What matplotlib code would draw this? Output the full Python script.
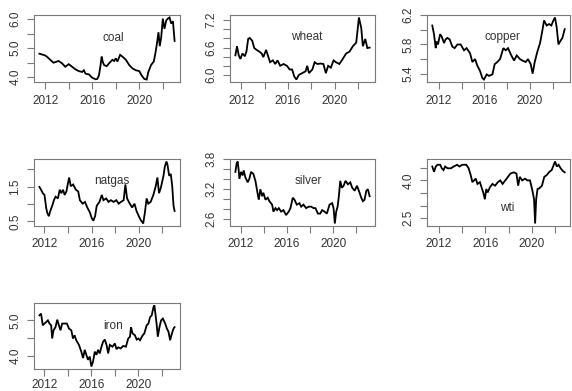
import matplotlib
matplotlib.use("Agg")
import matplotlib.pyplot as plt
from matplotlib.ticker import FixedLocator

plt.rcParams['font.family'] = ['Liberation Sans', 'DejaVu Sans']

# ---------------- data (log prices) ----------------
coal_years = [2011.51, 2012.00, 2012.14, 2012.43, 2012.71, 2013.00, 2013.14, 2013.43, 2013.71, 2014.00,
              2014.29, 2014.57, 2014.86, 2015.14, 2015.29, 2015.43, 2015.71, 2016.00, 2016.29, 2016.43,
              2016.57, 2016.71, 2016.80, 2016.89, 2017.00, 2017.23, 2017.43, 2017.71, 2017.86, 2018.00,
              2018.14, 2018.37, 2018.57, 2018.86, 2019.14, 2019.43, 2019.71, 2020.00, 2020.20, 2020.43,
              2020.63, 2020.77, 2021.00, 2021.23, 2021.37, 2021.51, 2021.63, 2021.74, 2021.86, 2022.00,
              2022.14, 2022.29, 2022.43, 2022.57, 2022.71, 2022.86, 2023.00]
coal_values = [4.81, 4.75, 4.71, 4.60, 4.50, 4.54, 4.56, 4.48, 4.36, 4.45,
               4.36, 4.27, 4.21, 4.18, 4.24, 4.12, 4.10, 3.98, 3.93, 3.94,
               4.06, 4.42, 4.71, 4.54, 4.42, 4.38, 4.48, 4.60, 4.56, 4.65,
               4.54, 4.77, 4.71, 4.60, 4.42, 4.30, 4.24, 4.21, 4.06, 3.94,
               3.92, 4.18, 4.42, 4.54, 4.83, 5.19, 5.55, 5.07, 5.37, 6.02,
               5.67, 5.96, 6.02, 6.06, 5.85, 5.93, 5.25]

wheat_years = [2011.48, 2011.62, 2011.77, 2011.91, 2012.09, 2012.29, 2012.43, 2012.58, 2012.72, 2012.93,
               2013.10, 2013.30, 2013.54, 2013.74, 2013.88, 2014.12, 2014.32, 2014.46, 2014.70, 2014.90,
               2015.10, 2015.33, 2015.62, 2015.91, 2016.14, 2016.35, 2016.55, 2016.72, 2016.93, 2017.22,
               2017.51, 2017.65, 2017.80, 2018.09, 2018.29, 2018.52, 2018.81, 2019.04, 2019.25, 2019.45,
               2019.68, 2019.91, 2020.12, 2020.41, 2020.70, 2020.99, 2021.28, 2021.57, 2021.86, 2022.09,
               2022.29, 2022.43, 2022.64, 2022.81, 2023.01]
wheat_values = [6.43, 6.63, 6.43, 6.35, 6.47, 6.41, 6.51, 6.79, 6.81, 6.75,
                6.59, 6.55, 6.51, 6.47, 6.39, 6.55, 6.39, 6.28, 6.32, 6.24,
                6.32, 6.20, 6.24, 6.20, 6.12, 6.12, 5.96, 5.90, 6.00, 6.04,
                6.08, 6.20, 6.04, 6.12, 6.28, 6.24, 6.25, 6.24, 6.04, 6.20,
                6.16, 6.32, 6.28, 6.24, 6.35, 6.47, 6.51, 6.63, 6.71, 7.26,
                7.03, 6.63, 6.79, 6.59, 6.60]

copper_years = [2011.43, 2011.58, 2011.73, 2011.81, 2011.93, 2012.11, 2012.25, 2012.46, 2012.60, 2012.75,
                2012.95, 2013.19, 2013.39, 2013.63, 2013.92, 2014.21, 2014.44, 2014.74, 2014.94, 2015.18,
                2015.38, 2015.61, 2015.82, 2015.96, 2016.20, 2016.40, 2016.70, 2016.90, 2017.13, 2017.37,
                2017.66, 2017.87, 2018.07, 2018.36, 2018.60, 2018.83, 2019.12, 2019.33, 2019.62, 2019.82,
                2020.06, 2020.23, 2020.41, 2020.64, 2020.88, 2021.08, 2021.23, 2021.46, 2021.67, 2021.87,
                2022.05, 2022.19, 2022.34, 2022.49, 2022.63, 2022.84, 2023.04]
copper_values = [6.06, 5.94, 5.75, 5.84, 5.80, 5.94, 5.91, 5.82, 5.87, 5.89,
                 5.87, 5.77, 5.75, 5.80, 5.80, 5.72, 5.75, 5.68, 5.56, 5.60,
                 5.51, 5.44, 5.34, 5.32, 5.39, 5.37, 5.39, 5.53, 5.56, 5.60,
                 5.75, 5.72, 5.75, 5.65, 5.58, 5.65, 5.60, 5.58, 5.56, 5.60,
                 5.53, 5.40, 5.56, 5.70, 5.82, 5.99, 6.13, 6.06, 6.08, 6.06,
                 6.13, 6.17, 6.03, 5.80, 5.84, 5.89, 6.01]

natgas_years = [2011.57, 2011.71, 2011.86, 2012.00, 2012.14, 2012.23, 2012.37, 2012.49, 2012.66, 2012.80,
                2012.94, 2013.14, 2013.29, 2013.43, 2013.57, 2013.71, 2013.86, 2014.00, 2014.09, 2014.23,
                2014.43, 2014.66, 2014.86, 2015.00, 2015.23, 2015.43, 2015.63, 2015.86, 2016.00, 2016.14,
                2016.29, 2016.43, 2016.66, 2016.86, 2017.00, 2017.23, 2017.43, 2017.63, 2017.86, 2018.09,
                2018.29, 2018.49, 2018.71, 2018.86, 2019.00, 2019.23, 2019.43, 2019.63, 2019.80, 2020.00,
                2020.14, 2020.37, 2020.51, 2020.66, 2020.80, 2021.00, 2021.23, 2021.43, 2021.57, 2021.71,
                2021.86, 2022.09, 2022.20, 2022.34, 2022.43, 2022.57, 2022.71, 2022.83, 2022.94, 2023.03]
natgas_values = [1.49, 1.41, 1.31, 1.26, 0.90, 0.75, 0.65, 0.80, 0.95, 1.11,
                 1.21, 1.16, 1.41, 1.31, 1.41, 1.26, 1.36, 1.61, 1.76, 1.51,
                 1.56, 1.41, 1.36, 1.11, 1.01, 1.06, 0.90, 0.75, 0.60, 0.52,
                 0.65, 0.95, 1.06, 1.26, 1.11, 1.16, 1.06, 1.11, 1.06, 1.11,
                 1.01, 1.06, 1.11, 1.56, 1.16, 1.01, 0.90, 1.01, 0.80, 0.65,
                 0.55, 0.44, 0.75, 1.16, 1.01, 1.06, 1.26, 1.51, 1.76, 1.31,
                 1.46, 1.81, 2.07, 2.22, 2.12, 1.81, 1.86, 1.51, 0.95, 0.80]

silver_years = [2011.51, 2011.62, 2011.71, 2011.80, 2011.86, 2012.00, 2012.14, 2012.23, 2012.38, 2012.58,
                2012.72, 2012.87, 2013.07, 2013.25, 2013.45, 2013.54, 2013.68, 2013.83, 2013.94, 2014.12,
                2014.32, 2014.46, 2014.70, 2014.81, 2014.99, 2015.13, 2015.28, 2015.48, 2015.68, 2015.91,
                2016.14, 2016.29, 2016.49, 2016.64, 2016.84, 2017.07, 2017.22, 2017.42, 2017.65, 2017.88,
                2018.09, 2018.29, 2018.46, 2018.67, 2018.87, 2019.04, 2019.25, 2019.45, 2019.68, 2019.91,
                2020.03, 2020.14, 2020.26, 2020.38, 2020.49, 2020.61, 2020.75, 2020.90, 2021.07, 2021.28,
                2021.48, 2021.65, 2021.86, 2022.06, 2022.29, 2022.43, 2022.58, 2022.72, 2022.87, 2023.01,
                2023.16]
silver_values = [3.54, 3.71, 3.75, 3.57, 3.40, 3.54, 3.47, 3.57, 3.43, 3.33,
                 3.40, 3.54, 3.50, 3.36, 3.09, 2.98, 3.19, 3.05, 3.12, 2.98,
                 3.02, 2.95, 2.88, 2.74, 2.81, 2.77, 2.81, 2.74, 2.77, 2.67,
                 2.74, 2.81, 3.02, 2.98, 2.88, 2.91, 2.84, 2.88, 2.81, 2.84,
                 2.84, 2.81, 2.81, 2.70, 2.70, 2.77, 2.74, 2.70, 2.88, 2.91,
                 2.81, 2.50, 2.74, 2.84, 3.05, 3.36, 3.22, 3.26, 3.36, 3.29,
                 3.33, 3.22, 3.16, 3.26, 3.12, 3.02, 2.95, 2.98, 3.16, 3.19,
                 3.05]

wti_years = [2011.43, 2011.58, 2011.73, 2011.87, 2012.11, 2012.25, 2012.40, 2012.54, 2012.75, 2013.04,
             2013.27, 2013.57, 2013.77, 2014.01, 2014.36, 2014.56, 2014.74, 2014.88, 2015.03, 2015.18,
             2015.32, 2015.53, 2015.67, 2015.82, 2015.96, 2016.08, 2016.20, 2016.40, 2016.61, 2016.84,
             2017.08, 2017.28, 2017.49, 2017.72, 2017.95, 2018.16, 2018.45, 2018.68, 2018.83, 2018.97,
             2019.18, 2019.42, 2019.62, 2019.85, 2020.06, 2020.20, 2020.29, 2020.38, 2020.50, 2020.64,
             2020.88, 2021.08, 2021.29, 2021.52, 2021.72, 2021.90, 2022.01, 2022.16, 2022.31, 2022.49,
             2022.69, 2022.84]
wti_values = [4.55, 4.34, 4.55, 4.62, 4.62, 4.48, 4.41, 4.55, 4.48, 4.48,
              4.55, 4.62, 4.55, 4.62, 4.62, 4.48, 4.21, 3.93, 4.00, 4.07,
              3.86, 3.93, 3.73, 3.52, 3.25, 3.66, 3.52, 3.73, 3.86, 3.79,
              3.93, 4.00, 3.86, 4.00, 4.14, 4.27, 4.32, 4.27, 3.79, 4.14,
              4.00, 4.07, 4.00, 4.00, 3.59, 3.25, 2.29, 3.25, 3.66, 3.68,
              3.79, 4.14, 4.21, 4.34, 4.41, 4.62, 4.75, 4.55, 4.62, 4.48,
              4.37, 4.32]

iron_years = [2011.57, 2011.71, 2011.86, 2012.00, 2012.14, 2012.29, 2012.43, 2012.57, 2012.66, 2012.77,
              2012.94, 2013.09, 2013.23, 2013.37, 2013.51, 2013.71, 2013.91, 2014.09, 2014.29, 2014.43,
              2014.57, 2014.71, 2014.94, 2015.14, 2015.29, 2015.43, 2015.57, 2015.71, 2015.86, 2016.00,
              2016.14, 2016.29, 2016.43, 2016.57, 2016.71, 2016.86, 2017.00, 2017.14, 2017.29, 2017.43,
              2017.57, 2017.80, 2018.00, 2018.14, 2018.29, 2018.49, 2018.71, 2018.94, 2019.14, 2019.29,
              2019.37, 2019.51, 2019.71, 2019.86, 2020.00, 2020.14, 2020.37, 2020.51, 2020.71, 2020.86,
              2021.00, 2021.14, 2021.29, 2021.37, 2021.49, 2021.57, 2021.66, 2021.80, 2021.94, 2022.09,
              2022.29, 2022.43, 2022.57, 2022.71, 2022.86, 2023.00, 2023.09]
iron_values = [5.14, 5.19, 4.86, 4.91, 4.95, 5.00, 4.91, 4.86, 4.49, 4.72,
               4.81, 5.02, 4.86, 4.72, 4.91, 4.91, 4.91, 4.77, 4.72, 4.49,
               4.58, 4.44, 4.31, 4.12, 3.94, 4.17, 4.03, 3.89, 3.98, 3.70,
               3.84, 4.12, 4.03, 4.17, 4.07, 4.26, 4.40, 4.46, 4.31, 4.07,
               4.31, 4.26, 4.35, 4.19, 4.24, 4.21, 4.28, 4.26, 4.49, 4.54,
               4.81, 4.63, 4.58, 4.46, 4.49, 4.44, 4.58, 4.63, 4.86, 4.91,
               5.09, 5.14, 5.37, 5.42, 5.09, 4.86, 4.54, 4.81, 5.00, 5.05,
               4.91, 4.77, 4.68, 4.44, 4.63, 4.77, 4.81]

series_names = ["coal", "wheat", "copper", "natgas", "silver", "wti", "iron"]

x_ticks = [2012, 2014, 2016, 2018, 2020, 2022]
x_tick_labels = ["2012", "", "2016", "", "2020", ""]

y_ticks = {
    "coal":   [4.0, 4.5, 5.0, 5.5, 6.0],
    "wheat":  [6.0, 6.2, 6.4, 6.6, 6.8, 7.0, 7.2],
    "copper": [5.4, 5.6, 5.8, 6.0, 6.2],
    "natgas": [0.5, 1.0, 1.5, 2.0],
    "silver": [2.6, 2.8, 3.0, 3.2, 3.4, 3.6, 3.8],
    "wti":    [2.5, 3.0, 3.5, 4.0, 4.5],
    "iron":   [4.0, 4.5, 5.0],
}
y_tick_labels = {
    "coal":   ["4.0", "", "5.0", "", "6.0"],
    "wheat":  ["6.0", "", "", "6.6", "", "", "7.2"],
    "copper": ["5.4", "", "5.8", "", "6.2"],
    "natgas": ["0.5", "", "1.5", ""],
    "silver": ["2.6", "", "", "3.2", "", "", "3.8"],
    "wti":    ["2.5", "", "", "4.0", ""],
    "iron":   ["4.0", "", "5.0"],
}

series = {
    "coal": (coal_years, coal_values),
    "wheat": (wheat_years, wheat_values),
    "copper": (copper_years, copper_values),
    "natgas": (natgas_years, natgas_values),
    "silver": (silver_years, silver_values),
    "wti": (wti_years, wti_values),
    "iron": (iron_years, iron_values),
}

# ---------------- layout (pixels) ----------------
W, H = 572, 391
col_px = [(34, 180), (230, 375), (427, 570)]
row_px = [(15, 82), (159, 226), (303, 369)]
label_pos = {
    "coal": (0.545, 0.66), "wheat": (0.53, 0.675), "copper": (0.53, 0.665),
    "natgas": (0.53, 0.665), "silver": (0.54, 0.665), "wti": (0.56, 0.265),
    "iron": (0.54, 0.65),
}

fig = plt.figure(figsize=(W / 100, H / 100), dpi=100)
fig.patch.set_facecolor("white")

box_col = "#7a7a7a"
txt_col = "#333333"

for i, name in enumerate(series_names):
    r, c = divmod(i, 3)
    x0, x1 = col_px[c]
    yt, yb = row_px[r]
    ax = fig.add_axes([x0 / W, 1 - yb / H, (x1 - x0) / W, (yb - yt) / H])
    yrs, vals = series[name]
    ax.plot(yrs, vals, color="black", lw=1.3, solid_joinstyle="miter")
    ax.margins(x=0.04, y=0.04)
    ax.xaxis.set_major_locator(FixedLocator(x_ticks))
    ax.set_xticklabels(x_tick_labels)
    ax.yaxis.set_major_locator(FixedLocator(y_ticks[name]))
    ax.set_yticklabels(y_tick_labels[name], rotation=90, va="center")
    ax.tick_params(axis="both", direction="out", length=5, width=0.8,
                   color=box_col, labelcolor=txt_col, labelsize=8.5)
    ax.tick_params(axis="x", pad=(2.5 if r == 2 else 4))
    ax.tick_params(axis="y", pad=4)
    for s in ax.spines.values():
        s.set_color(box_col)
        s.set_linewidth(0.8)
    lx, ly = label_pos[name]
    ax.text(lx, ly, name, transform=ax.transAxes, ha="center", va="center",
            fontsize=8.5, color=txt_col)

fig.savefig("out.png", dpi=100, facecolor="white")
